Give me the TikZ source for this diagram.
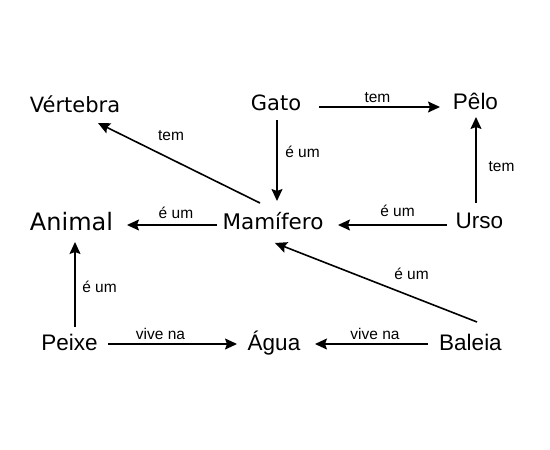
\documentclass[tikz,border=0pt]{standalone}
\usepackage{fontspec}
\newfontfamily\dvfont{DejaVu Sans}
\newfontfamily\libfont{Liberation Sans}
\usetikzlibrary{arrows.meta,calc}
\tikzset{
  dvnode/.style={anchor=base, inner sep=0pt, font=\dvfont\fontsize{21}{25}\selectfont},
  libnode/.style={anchor=base, inner sep=0pt, font=\libfont\fontsize{22.5}{26}\selectfont},
  arr/.style={line width=1.6pt, -{Stealth[length=12pt,width=11pt,inset=2pt]}},
  lbl/.style={anchor=base, inner sep=0pt, font=\libfont\fontsize{15.5}{18}\selectfont}
}
\begin{document}
\begin{tikzpicture}[x=1pt,y=-1pt]
\useasboundingbox (0,0) rectangle (550,450);
\node[dvnode] (vertebra) at (75,112) {Vértebra};
\node[dvnode] (gato) at (276,110) {Gato};
\node[libnode] (pelo) at (475.5,109) {Pêlo};
\node[dvnode, font=\dvfont\fontsize{24}{28}\selectfont] (animal) at (71.5,230) {Animal};
\node[dvnode, font=\dvfont\fontsize{21.5}{25}\selectfont] (mamifero) at (273,229) {Mamífero};
\node[libnode] (urso) at (479.5,228) {Urso};
\node[libnode] (peixe) at (69.5,350) {Peixe};
\node[libnode] (agua) at (274,350) {Água};
\node[libnode] (baleia) at (470.5,350) {Baleia};

\draw[arr] ($(gato.base)+(43,-3)$) -- ($(pelo.base)+(-35.5,-2)$)
  node[lbl, pos=0.483, yshift=5pt] {tem};
\draw[arr] ($(gato.base)+(1,10)$) -- ($(mamifero.base)+(4,-28)$)
  node[lbl, pos=0.457, xshift=25.5pt] {é um};
\draw[arr] ($(mamifero.base)+(-13,-26)$) -- ($(vertebra.base)+(23,11)$)
  node[lbl, pos=0.549, yshift=19pt] {tem};
\draw[arr] ($(mamifero.base)+(-56,-4)$) -- ($(animal.base)+(55.5,-5)$)
  node[lbl, pos=0.456, yshift=7pt] {é um};
\draw[arr] ($(urso.base)+(-32.5,-3)$) -- ($(mamifero.base)+(65,-4)$)
  node[lbl, pos=0.454, yshift=9pt] {é um};
\draw[arr] ($(urso.base)+(-3.5,-25)$) -- ($(pelo.base)+(0.5,8)$)
  node[lbl, pos=0.372, xshift=25.5pt] {tem};
\draw[arr] ($(peixe.base)+(5.5,-23)$) -- ($(animal.base)+(3.5,12)$)
  node[lbl, pos=0.41, xshift=24.5pt] {é um};
\draw[arr] ($(peixe.base)+(38.5,-6)$) -- ($(agua.base)+(-37,-6)$)
  node[lbl, pos=0.407, yshift=5pt] {vive na};
\draw[arr] ($(baleia.base)+(-42.5,-6)$) -- ($(agua.base)+(41,-6)$)
  node[lbl, pos=0.469, yshift=5pt] {vive na};
\draw[arr] ($(baleia.base)+(6.5,-28)$) -- ($(mamifero.base)+(2,14)$)
  node[lbl, pos=0.324, yshift=17.4pt] {é um};
\end{tikzpicture}
\end{document}
